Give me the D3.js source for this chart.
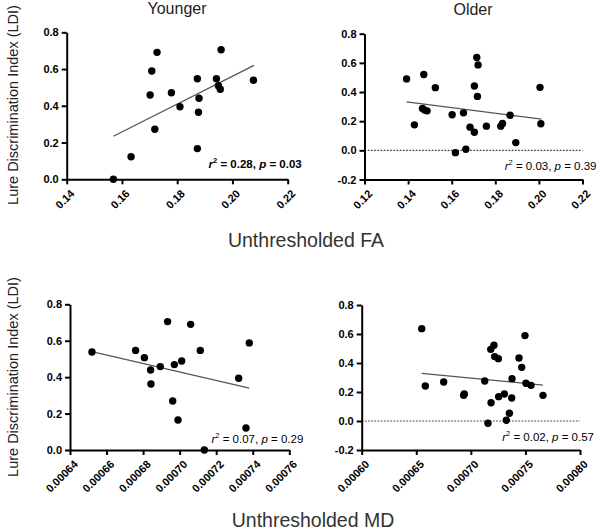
<!DOCTYPE html>
<html><head><meta charset="utf-8">
<script src="https://cdn.jsdelivr.net/npm/d3@7"></script>
<style>body{margin:0;background:#fff}svg{display:block}</style>
</head><body>
<script>
// ---- Data ----
const youngerFA_x = [0.1569,0.1633,0.1719,0.1702,0.1708,0.1727,0.1779,0.1810,0.1873,0.1879,0.1877,0.1873,0.1942,0.1949,0.1956,0.1959,0.2076];
const youngerFA_y = [0.000,0.123,0.272,0.459,0.589,0.691,0.471,0.395,0.547,0.441,0.365,0.167,0.547,0.509,0.490,0.705,0.539];
const youngerFA_fit = [[0.1569,0.234],[0.2078,0.620]];

const olderFA_x = [0.1393,0.1429,0.1472,0.1466,0.1476,0.1487,0.1525,0.1602,0.1617,0.1654,0.1665,0.1684,0.1704,0.1704,0.1715,0.1721,0.1718,0.1759,0.1825,0.1833,0.1868,0.1894,0.2005,0.2009];
const olderFA_y = [0.490,0.175,0.520,0.287,0.276,0.271,0.430,0.244,-0.016,0.257,0.007,0.159,0.124,0.441,0.637,0.586,0.370,0.166,0.166,0.184,0.241,0.053,0.432,0.182];
const olderFA_fit = [[0.1393,0.333],[0.2012,0.214]];

const youngerMD_x = [0.000652,0.0006759,0.0006807,0.0006841,0.0006843,0.0006894,0.0006934,0.0006962,0.0006971,0.0006991,0.0007011,0.0007060,0.0007113,0.0007135,0.0007323,0.0007363,0.0007381];
const youngerMD_y = [0.538,0.547,0.507,0.439,0.362,0.458,0.705,0.269,0.469,0.165,0.489,0.690,0.547,0.000,0.394,0.121,0.588];
const youngerMD_fit = [[0.000652,0.540],[0.0007381,0.340]];

const olderMD_x = [0.000655,0.0006583,0.0006751,0.0006934,0.000694,0.0007127,0.0007157,0.0007185,0.0007182,0.0007212,0.0007218,0.0007252,0.0007255,0.0007307,0.0007325,0.0007353,0.0007377,0.0007374,0.0007441,0.0007466,0.0007496,0.0007505,0.0007551,0.0007661];
const olderMD_y = [0.637,0.241,0.269,0.177,0.186,0.276,-0.016,0.126,0.494,0.522,0.444,0.430,0.168,0.186,0.005,0.053,0.292,0.159,0.434,0.370,0.589,0.260,0.246,0.177];
const olderMD_fit = [[0.000655,0.329],[0.000766,0.248]];

const faXTicksYounger = [0.14,0.16,0.18,0.20,0.22];
const faXTicksOlder = [0.12,0.14,0.16,0.18,0.20,0.22];
const mdXTicksYounger = [0.00064,0.00066,0.00068,0.00070,0.00072,0.00074,0.00076];
const mdXTicksOlder = [0.00060,0.00065,0.00070,0.00075,0.00080];
const yTicksYounger = [0,0.2,0.4,0.6,0.8];
const yTicksOlder = [-0.2,0,0.2,0.4,0.6,0.8];

const groupTitles = ["Younger","Older"];
const rowTitles = ["Unthresholded FA","Unthresholded MD"];
const yLabel = "Lure Discrimination Index (LDI)";
const stats = [
  {r2:"0.28", p:"0.03", bold:true},
  {r2:"0.03", p:"0.39", bold:false},
  {r2:"0.07", p:"0.29", bold:false},
  {r2:"0.02", p:"0.57", bold:false}
];

// ---- Layout ----
const W = 600, H = 530;
const svg = d3.select("body").append("svg").attr("width",W).attr("height",H)
  .style("font-family","'Liberation Sans', Arial, Helvetica, sans-serif");

const panels = [
  {xs:youngerFA_x, ys:youngerFA_y, fit:youngerFA_fit, xd:[0.14,0.22], xr:[66.7,287.7], yd:[0,0.8], yr:[179.3,32.3], xt:faXTicksYounger, yt:yTicksYounger, xf:d3.format(".2f"), zero:false, st:stats[0], stBase:168},
  {xs:olderFA_x, ys:olderFA_y, fit:olderFA_fit, xd:[0.12,0.22], xr:[364.5,582.5], yd:[-0.2,0.8], yr:[179.5,33.7], xt:faXTicksOlder, yt:yTicksOlder, xf:d3.format(".2f"), zero:true, st:stats[1], stBase:170},
  {xs:youngerMD_x, ys:youngerMD_y, fit:youngerMD_fit, xd:[0.00064,0.00076], xr:[70,289.3], yd:[0,0.8], yr:[450,304.3], xt:mdXTicksYounger, yt:yTicksYounger, xf:d3.format(".5f"), zero:false, st:stats[2], stBase:443},
  {xs:olderMD_x, ys:olderMD_y, fit:olderMD_fit, xd:[0.0006,0.0008], xr:[361.7,580], yd:[-0.2,0.8], yr:[450,305], xt:mdXTicksOlder, yt:yTicksOlder, xf:d3.format(".5f"), zero:true, st:stats[3], stBase:441}
];

const yFmt = d => d3.format(".1f")(d).replace("\u2212","-");

panels.forEach((p,i) => {
  const x = d3.scaleLinear().domain(p.xd).range(p.xr);
  const y = d3.scaleLinear().domain(p.yd).range(p.yr);
  const g = svg.append("g");

  if (p.zero) {
    g.append("line").attr("x1",x(p.xd[0])).attr("x2",x(p.xd[1]))
      .attr("y1",y(0)).attr("y2",y(0))
      .attr("stroke","#333").attr("stroke-width",1.1).attr("stroke-dasharray","1.6,1.6");
  }

  // axes
  const xAxis = d3.axisBottom(x).tickValues(p.xt).tickFormat(p.xf).tickSize(5).tickSizeOuter(0);
  const xg = g.append("g").attr("transform",`translate(0,${p.yr[0]})`).call(xAxis);
  xg.select(".domain").attr("stroke","#000").attr("stroke-width",2);
  xg.selectAll(".tick line").attr("stroke","#000").attr("stroke-width",2);
  xg.selectAll(".tick text")
    .attr("font-size",11).attr("font-weight","bold").attr("fill","#000")
    .attr("text-anchor","end").attr("dy",null).attr("y",0).attr("x",0)
    .attr("transform","translate(8,15) rotate(-45)");

  const yAxis = d3.axisLeft(y).tickValues(p.yt).tickFormat(yFmt).tickSize(5).tickSizeOuter(0);
  const yg = g.append("g").attr("transform",`translate(${p.xr[0]},0)`).call(yAxis);
  yg.select(".domain").attr("stroke","#000").attr("stroke-width",2);
  yg.selectAll(".tick line").attr("stroke","#000").attr("stroke-width",2);
  yg.selectAll(".tick text").attr("font-size",11).attr("font-weight","bold").attr("fill","#000").attr("x",-8);

  // fit line
  g.append("path").datum(p.fit)
    .attr("d", d3.line().x(d=>x(d[0])).y(d=>y(d[1])))
    .attr("stroke","#555").attr("stroke-width",1.2).attr("fill","none");

  // points
  g.selectAll("circle.pt").data(p.xs.map((v,k)=>[v,p.ys[k]])).join("circle")
    .attr("class","pt").attr("cx",d=>x(d[0])).attr("cy",d=>y(d[1])).attr("r",3.7).attr("fill","#000");

  // stats text
  const t = g.append("text").attr("x",p.xr[1]+14).attr("y",p.stBase).attr("text-anchor","end")
    .attr("font-size",11.5).attr("font-weight",p.st.bold?"bold":"normal").attr("fill","#000");
  t.append("tspan").attr("font-style","italic").text("r");
  t.append("tspan").attr("font-size",7.5).attr("dy",-5).text("2");
  t.append("tspan").attr("dy",5).text(" = " + p.st.r2 + ", ");
  t.append("tspan").attr("font-style","italic").text("p");
  t.append("tspan").text(" = " + p.st.p);
});

// titles
svg.append("text").attr("x",177).attr("y",14).attr("text-anchor","middle").attr("font-size",16).attr("fill","#222").text(groupTitles[0]);
svg.append("text").attr("x",473).attr("y",15).attr("text-anchor","middle").attr("font-size",16).attr("fill","#222").text(groupTitles[1]);

svg.append("text").attr("x",306).attr("y",247).attr("text-anchor","middle").attr("font-size",19.5).attr("fill","#333").text(rowTitles[0]);
svg.append("text").attr("x",313).attr("y",527).attr("text-anchor","middle").attr("font-size",19.5).attr("fill","#333").text(rowTitles[1]);

[105, 377].forEach(cy => {
  svg.append("text").attr("transform",`translate(18,${cy}) rotate(-90)`).attr("text-anchor","middle")
    .attr("font-size",14.5).attr("fill","#222").text(yLabel);
});
</script>
</body></html>
